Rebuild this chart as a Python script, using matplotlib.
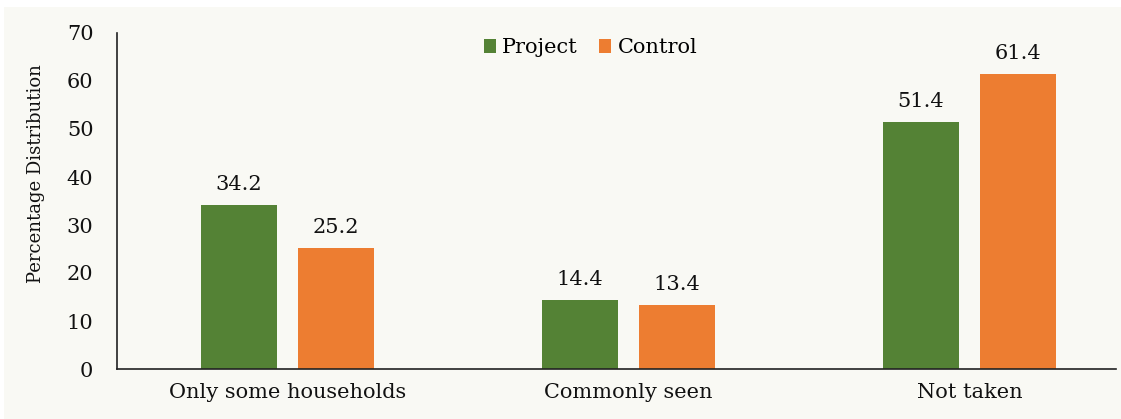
import matplotlib
matplotlib.use("Agg")
import matplotlib.pyplot as plt
from matplotlib.patches import Rectangle
import numpy as np

categories = ["Only some households", "Commonly seen", "Not taken"]
project = [34.2, 14.4, 51.4]
control = [25.2, 13.4, 61.4]
series_names = ["Project", "Control"]
yticks = [0, 10, 20, 30, 40, 50, 60, 70]

GREEN = "#548235"
ORANGE = "#ED7D31"
BG = "#F9F9F4"

plt.rcParams['font.family'] = ['DejaVu Serif']

W, H = 1121, 419
fig = plt.figure(figsize=(W/100, H/100), dpi=100)
fig.patch.set_facecolor("white")
fig.patches.append(Rectangle((4/W, 0), 1, (H-7)/H, transform=fig.transFigure,
                             facecolor=BG, edgecolor="none", zorder=-10))

ax = fig.add_axes([117/W, (H-369)/H, (1116-117)/W, (369-33)/H])
ax.set_facecolor("none")

x = np.arange(len(categories))
bw = 0.223
off = 0.142
b1 = ax.bar(x - off, project, bw, color=GREEN, label=series_names[0])
b2 = ax.bar(x + off, control, bw, color=ORANGE, label=series_names[1])

for bars, vals in ((b1, project), (b2, control)):
    for rect, v in zip(bars, vals):
        ax.annotate(f"{v:.1f}", (rect.get_x() + rect.get_width()/2, v),
                    xytext=(0, 8), textcoords="offset points",
                    ha="center", va="bottom", fontsize=15, color="#111111")

ax.set_xlim(-0.5, 2.43)
ax.set_ylim(0, 70)
ax.set_yticks(yticks)
ax.set_xticks(x)
ax.set_xticklabels(categories, fontsize=15)
ax.tick_params(axis="both", length=0, colors="#111111", labelsize=15)
ax.tick_params(axis="y", pad=17)
ax.tick_params(axis="x", pad=10)
for s in ("top", "right"):
    ax.spines[s].set_visible(False)
for s in ("left", "bottom"):
    ax.spines[s].set_color("#222222")
    ax.spines[s].set_linewidth(1.2)

ax.set_ylabel("Percentage Distribution", fontsize=13, color="#111111")
ax.yaxis.set_label_coords(-0.072, 0.583)

leg = ax.legend(loc="upper center", bbox_to_anchor=(0.474, 1.04), ncol=2, frameon=False,
                fontsize=15, handlelength=0.6, handleheight=0.6, handletextpad=0.3,
                columnspacing=1.0)

fig.savefig("out.png", dpi=100, facecolor=fig.get_facecolor())
